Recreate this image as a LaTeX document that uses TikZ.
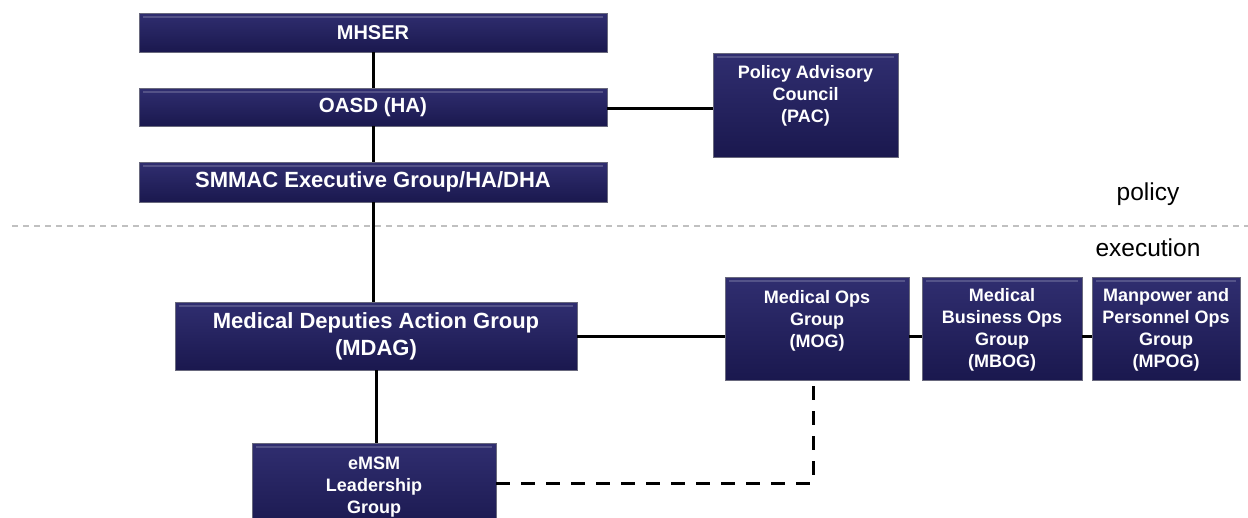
\documentclass[tikz,border=0pt]{standalone}
\usepackage{fontspec}
\setmainfont{Liberation Sans}
\definecolor{navy}{RGB}{30,28,88}
\definecolor{navytop}{RGB}{48,46,112}
\definecolor{navybot}{RGB}{26,24,78}
\definecolor{boxedge}{RGB}{105,105,125}
\definecolor{sepgray}{RGB}{192,192,192}
\tikzset{
  orgbox/.style={draw=boxedge, line width=0.9pt, top color=navytop, middle color=navy, bottom color=navybot,
    inner sep=0pt, text=white, align=center,
    path picture={\draw[navytop!55!white, opacity=0.4, line width=1.4pt]
      ([xshift=4pt,yshift=-4pt]path picture bounding box.north west) --
      ([xshift=-4pt,yshift=-4pt]path picture bounding box.north east);}},
  boxtext/.style={text=white, align=center, inner sep=0pt, font=\bfseries\fontsize{18}{22}\selectfont},
  link/.style={draw=black, line width=3pt},
  dlink/.style={draw=black, line width=3pt, dash pattern=on 14pt off 11pt},
  sepline/.style={draw=sepgray, line width=2pt, dash pattern=on 6pt off 5pt},
  zonelabel/.style={inner sep=0pt, font=\fontsize{24.5}{28}\selectfont}
}
\begin{document}
\begin{tikzpicture}[x=1pt, y=-1pt]
\useasboundingbox (0,0) rectangle (1248,517);
\clip (0,0) rectangle (1248,517);

% separator
\coordinate (sepL) at (12,226);
\coordinate (sepR) at (1248,226);
\draw[sepline] (sepL) -- (sepR);
\node[zonelabel] (policy) at (1148,194) {policy};
\node[zonelabel] (execution) at (1148,248) {execution};

% boxes
\node[orgbox, minimum width=468pt, minimum height=39pt, font=\bfseries\fontsize{20}{24}\selectfont] (mhser) at (373,32.5) {MHSER};
\node[orgbox, minimum width=468pt, minimum height=38pt, font=\bfseries\fontsize{20.5}{24}\selectfont] (oasd) at (373,107) {OASD (HA)};
\node[orgbox, minimum width=468pt, minimum height=40pt, font=\bfseries\fontsize{22}{26}\selectfont] (smmac) at (373,182) {SMMAC Executive Group/HA/DHA};
\node[orgbox, minimum width=185pt, minimum height=104pt] (pac) at (805.5,105) {};
\node[boxtext, anchor=north] (pactext) at (805.5,65) {Policy Advisory\\Council\\(PAC)};

\node[orgbox, minimum width=402pt, minimum height=68pt, font=\bfseries\fontsize{22}{27}\selectfont] (mdag) at (376,336) {Medical Deputies Action Group\\(MDAG)};

\node[orgbox, minimum width=184pt, minimum height=103pt] (mog) at (817,328.5) {};
\node[boxtext, anchor=north] (mogtext) at (817,290) {Medical Ops\\Group\\(MOG)};
\node[orgbox, minimum width=160pt, minimum height=103pt] (mbog) at (1002,328.5) {};
\node[boxtext] (mbogtext) at (1002,330) {Medical\\Business Ops\\Group\\(MBOG)};
\node[orgbox, minimum width=148pt, minimum height=103pt] (mpog) at (1166,328.5) {};
\node[boxtext] (mpogtext) at (1166,330) {Manpower and\\Personnel Ops\\Group\\(MPOG)};

\node[orgbox, minimum width=244pt, minimum height=90pt] (emsm) at (374,488) {};
\node[boxtext, anchor=north] (emsmtext) at (374,457) {eMSM\\Leadership\\Group};

% connectors
\draw[link] (mhser) -- (oasd);
\draw[link] (oasd) -- (smmac);
\draw[link] (smmac.south) -- (smmac.south |- mdag.north);
\draw[link] ([yshift=-1pt]oasd.east) -- ([yshift=-1pt]oasd.east -| pac.west);
\draw[link] (mdag.east) -- (mdag.east -| mog.west);
\draw[link] ([yshift=-8pt]mog.east) -- ([yshift=-8pt]mog.east -| mbog.west);
\draw[link] ([yshift=-8pt]mog.east -| mbog.east) -- ([yshift=-8pt]mog.east -| mpog.west);
\draw[link] (mdag.south) -- (mdag.south |- emsm.north);
\draw[dlink] ([yshift=5pt]emsm.east) -| ([xshift=-4pt]mog.south);
\end{tikzpicture}
\end{document}
